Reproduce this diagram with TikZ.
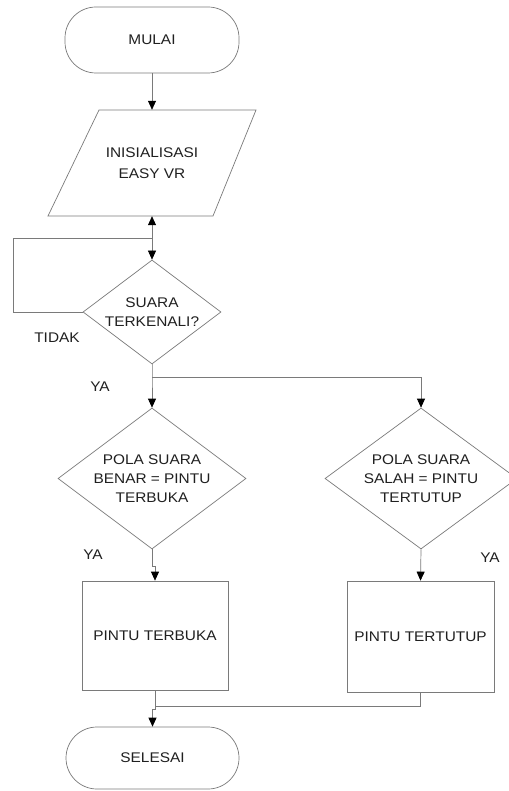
\documentclass[tikz,border=0pt]{standalone}
\usepackage{fontspec}
\setmainfont[FakeStretch=1.1]{Liberation Sans}
\usetikzlibrary{shapes.geometric,arrows.meta}
\definecolor{ln}{HTML}{7A7A7A}
\definecolor{tx}{HTML}{202020}
\begin{document}
\begin{tikzpicture}[x=1pt,y=-1pt,
  every node/.style={font=\fontsize{14}{19}\selectfont, text=tx, align=center, inner sep=0pt},
  shp/.style={draw=ln, line width=0.7pt},
  term/.style={shp, rectangle, rounded corners=31pt},
  dec/.style={shp, diamond, aspect=1.33},
  proc/.style={shp, rectangle},
  con/.style={draw=ln, line width=0.7pt},
  arr/.style={con, -{Triangle[length=9pt,width=8pt,color=black]}},
  lbl/.style={}
]
\useasboundingbox (0,0) rectangle (508,791);
\fill[white] (0,0) rectangle (508,791);

\node[term, minimum width=174pt, minimum height=66pt] (mulai) at (152,40) {MULAI};

\node[minimum width=110pt, minimum height=106pt, font=\fontsize{14}{21}\selectfont] (init) at (152,163) {INISIALISASI\\EASY VR};
\draw[shp] (99,110) -- (256,110) -- (213,216) -- (48,216) -- cycle;

\node[dec, minimum width=138pt, minimum height=104pt] (d1) at (152,312) {SUARA\\TERKENALI?};

\node[dec, minimum width=188pt, minimum height=141pt] (d2) at (152,478.5) {POLA SUARA\\BENAR = PINTU\\TERBUKA};
\node[dec, minimum width=192pt, minimum height=141pt] (d3) at (421,478.5) {POLA SUARA\\SALAH = PINTU\\TERTUTUP};

\node[proc, minimum width=146pt, minimum height=109pt] (lb) at (155,635.5) {PINTU TERBUKA};
\node[proc, minimum width=147pt, minimum height=111pt] (rb) at (420.5,636.5) {PINTU TERTUTUP};

\node[term, minimum width=173pt, minimum height=62pt] (selesai) at (152.5,758) {SELESAI};

\node[lbl] (tidak) at (57,338) {TIDAK};
\node[lbl] (ya1) at (100,387) {YA};
\node[lbl] (ya2) at (93,555) {YA};
\node[lbl] (ya3) at (490,558) {YA};

% connectors
\draw[arr] (mulai.south) -- (init.north);
\coordinate (j1) at (152,238);
\draw[con, {Triangle[length=9pt,width=8pt,color=black]}-{Triangle[length=9pt,width=8pt,color=black]}] (init.south) -- (d1.north);
\draw[con] (d1.west) -| (13,238) -- (j1);

\coordinate (br) at (152,377);
\draw[arr] (d1.south) -- (br) -- (d2.north);
\draw[arr] (br) -| (d3.north);

\draw[arr] (d2.south) -- ++(0,17) -| (lb.north);
\draw[arr] (d3.south) -- (rb.north);

\coordinate (j2) at (155,706);
\draw[arr] (lb.south) -- ++(0,19) -| (selesai.north);
\draw[con] (rb.south) |- (j2);
\end{tikzpicture}
\end{document}
